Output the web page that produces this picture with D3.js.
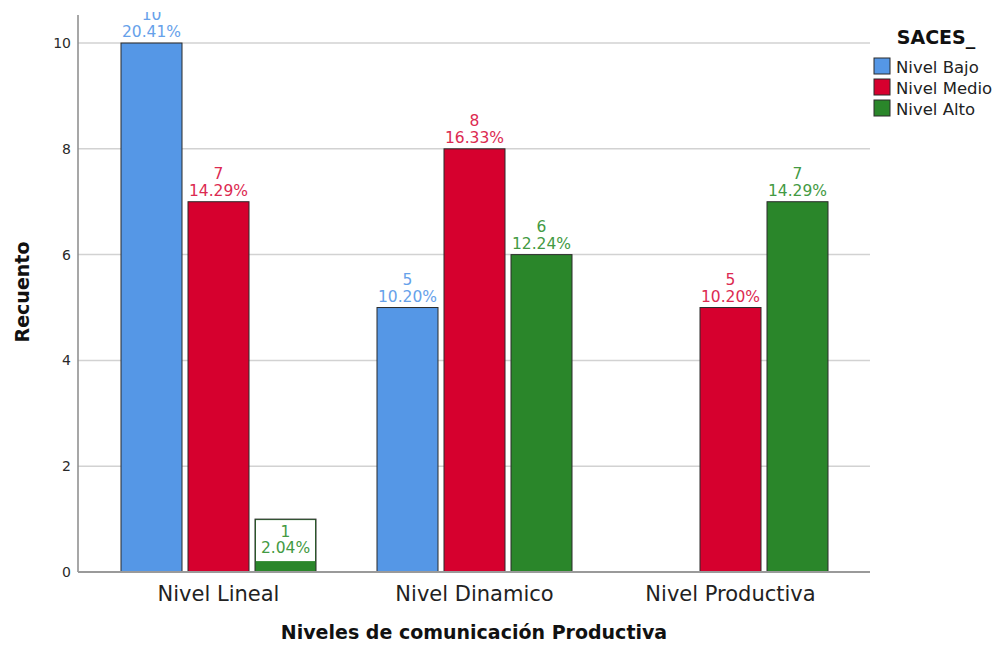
<!DOCTYPE html>
<html><head><meta charset="utf-8">
<script src="https://cdn.jsdelivr.net/npm/d3@7"></script>
<style>body{margin:0;background:#fff}svg{display:block}text{font-family:"DejaVu Sans",sans-serif}</style>
</head><body><svg id="c" width="1000" height="645"></svg>
<script>
const categories = ["Nivel Lineal", "Nivel Dinamico", "Nivel Productiva"];
const seriesNames = ["Nivel Bajo", "Nivel Medio", "Nivel Alto"];
const bajo = [10, 5, 0];
const medio = [7, 8, 5];
const alto = [1, 6, 7];
const total = 49;
const yTicks = [0, 2, 4, 6, 8, 10];
const barColors = ["#5597e6", "#d6002e", "#2a862a"];
const labelColors = ["#66a1ea", "#dc2a51", "#439a43"];

const series = [bajo, medio, alto];
const svg = d3.select("#c");
const plot = {left: 78, right: 870, top: 15, bottom: 572};

const x0 = d3.scaleBand().domain(categories).range([90.5, 858.5]).padding(0);
const x1 = d3.scaleBand().domain(seriesNames).range([30.5, 225.5]).paddingInner(6/67).paddingOuter(0);
const y = d3.scaleLinear().domain([0, 10.53]).range([plot.bottom, plot.top]);

// gridlines
svg.append("g").selectAll("line").data(yTicks.filter(d => d > 0)).join("line")
  .attr("x1", plot.left).attr("x2", plot.right)
  .attr("y1", d => y(d)).attr("y2", d => y(d))
  .attr("stroke", "#d2d2d2").attr("stroke-width", 1.5);

// y axis
const yAxis = svg.append("g").attr("transform", `translate(${plot.left},0)`)
  .call(d3.axisLeft(y).tickValues(yTicks).tickSize(0).tickPadding(7).tickFormat(d3.format("d")));
yAxis.select(".domain").remove();
yAxis.selectAll("text").attr("font-size", 14).attr("fill", "#2a2a2a").attr("font-family", "DejaVu Sans");
svg.append("line").attr("x1", plot.left).attr("x2", plot.left).attr("y1", plot.top).attr("y2", plot.bottom)
  .attr("stroke", "#8a8a8a").attr("stroke-width", 1.5);

// bars
const data = [];
categories.forEach((c, i) => seriesNames.forEach((s, j) => {
  if (series[j][i] > 0) data.push({c, s, j, v: series[j][i]});
}));

const clip = svg.append("defs").append("clipPath").attr("id", "clipTop");
clip.append("rect").attr("x", 0).attr("y", 12).attr("width", 1000).attr("height", 700);

const gb = svg.append("g");
gb.selectAll("rect").data(data).join("rect")
  .attr("x", d => x0(d.c) + x1(d.s))
  .attr("y", d => y(d.v))
  .attr("width", x1.bandwidth())
  .attr("height", d => y(0) - y(d.v))
  .attr("fill", d => barColors[d.j])
  .attr("stroke", "#2b2b2b").attr("stroke-width", 1);

// x axis line
svg.append("line").attr("x1", plot.left).attr("x2", plot.right).attr("y1", plot.bottom).attr("y2", plot.bottom)
  .attr("stroke", "#9a9a9a").attr("stroke-width", 2);

// labels
const gl = svg.append("g").attr("clip-path", "url(#clipTop)");
data.forEach(d => {
  const cx = x0(d.c) + x1(d.s) + x1.bandwidth() / 2;
  const top = y(d.v);
  const inside = d.v <= 1;
  let b1, b2;
  if (inside) {
    gl.append("rect").attr("x", x0(d.c) + x1(d.s) + 1).attr("y", top + 1)
      .attr("width", x1.bandwidth() - 2).attr("height", 41).attr("fill", "#fff");
    b1 = top + 18; b2 = top + 34;
  } else {
    b1 = top - 23; b2 = top - 6;
  }
  gl.append("text").attr("x", cx).attr("y", b1).attr("text-anchor", "middle")
    .attr("font-size", 15.5).attr("fill", labelColors[d.j]).text(d.v);
  gl.append("text").attr("x", cx).attr("y", b2).attr("text-anchor", "middle")
    .attr("font-size", 15.5).attr("fill", labelColors[d.j]).text((d.v / total * 100).toFixed(2) + "%");
});

// category labels
svg.append("g").selectAll("text").data(categories).join("text")
  .attr("x", d => x0(d) + x0.bandwidth() / 2).attr("y", 601)
  .attr("text-anchor", "middle").attr("font-size", 21).attr("fill", "#222").text(d => d);

// axis titles
svg.append("text").attr("x", (plot.left + plot.right) / 2).attr("y", 639).attr("text-anchor", "middle")
  .attr("font-size", 19).attr("font-weight", "bold").attr("fill", "#111").text("Niveles de comunicación Productiva");
svg.append("text").attr("transform", "translate(29,292) rotate(-90)").attr("text-anchor", "middle")
  .attr("font-size", 19).attr("font-weight", "bold").attr("fill", "#111").text("Recuento");

// legend
svg.append("text").attr("x", 936).attr("y", 44).attr("text-anchor", "middle")
  .attr("font-size", 19).attr("font-weight", "bold").attr("fill", "#111").text("SACES_");
const lg = svg.append("g").selectAll("g").data(seriesNames).join("g")
  .attr("transform", (d, i) => `translate(874,${58 + i * 21})`);
lg.append("rect").attr("width", 16).attr("height", 16).attr("fill", (d, i) => barColors[i])
  .attr("stroke", "#2b2b2b").attr("stroke-width", 1);
lg.append("text").attr("x", 22).attr("y", 14.5).attr("font-size", 16.5).attr("fill", "#222").text(d => d);
</script></body></html>
